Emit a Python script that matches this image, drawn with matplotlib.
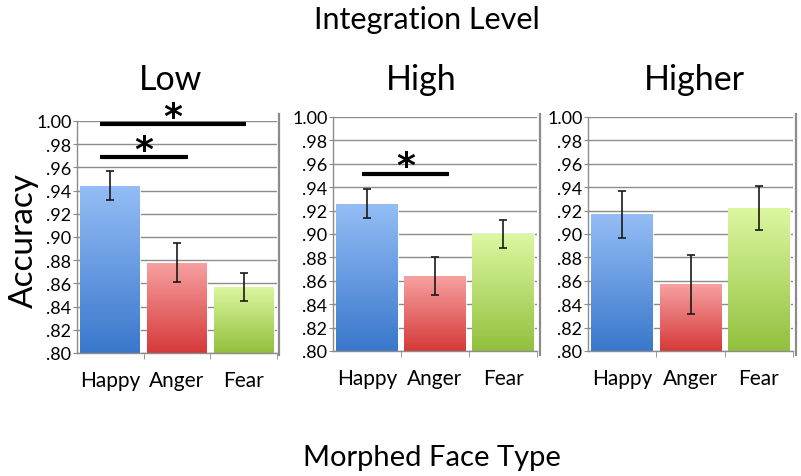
import numpy as np
import matplotlib
matplotlib.use("Agg")
import matplotlib.pyplot as plt
import matplotlib.transforms as mtransforms
from matplotlib.colors import LinearSegmentedColormap

plt.rcParams['font.family'] = ['Lato', 'DejaVu Sans']

categories = ['Happy', 'Anger', 'Fear']
levels = ['Low', 'High', 'Higher']

# accuracy means and error half-widths, per integration level
means = {
    'Low':    [0.944, 0.878, 0.857],
    'High':   [0.926, 0.864, 0.900],
    'Higher': [0.917, 0.857, 0.922],
}
errors = {
    'Low':    [0.0125, 0.0165, 0.012],
    'High':   [0.0125, 0.0165, 0.012],
    'Higher': [0.020, 0.025, 0.019],
}
# significance bars: (level, x start, x end, y)
sig_bars = [
    ('Low', -0.16, 2.03, 0.9970),
    ('Low', -0.16, 1.16, 0.9690),
    ('High', -0.08, 1.21, 0.9517),
]
yticks = [0.80, 0.82, 0.84, 0.86, 0.88, 0.90, 0.92, 0.94, 0.96, 0.98, 1.00]
ytick_labels = ['.80', '.82', '.84', '.86', '.88', '.90', '.92', '.94', '.96', '.98', '1.00']

grad_colors = [('#94bdf5', '#3a78cc'), ('#f7a0a0', '#d63a3a'), ('#dcf7a0', '#92c03e')]

W, H = 801, 477
fig = plt.figure(figsize=(W / 100, H / 100), dpi=100)

# axes boxes in pixels: left, right, top(1.00), bottom(.80)
boxes = [(77, 277, 122, 354), (333, 537, 118, 352), (588, 793, 118, 352)]
borders = [279, 540, 796]
title_x = [171, 421, 694]

for k, lvl in enumerate(levels):
    l, r, t, b = boxes[k]
    ax = fig.add_axes([l / W, 1 - b / H, (r - l) / W, (b - t) / H])
    x = np.arange(len(categories))
    bars = ax.bar(x, np.array(means[lvl]) - 0.8, width=0.9, bottom=0.8,
                  color='none', edgecolor='white', linewidth=0.6, zorder=2)
    for i, p in enumerate(bars.patches):
        cmap = LinearSegmentedColormap.from_list('g', [grad_colors[i][1], grad_colors[i][0]])
        grad = np.linspace(0, 1, 100).reshape(-1, 1)
        x0, y0 = p.get_x(), p.get_y()
        im = ax.imshow(grad, cmap=cmap, origin='lower', aspect='auto',
                       extent=[x0, x0 + p.get_width(), y0, y0 + p.get_height()], zorder=2)
        im.set_clip_path(p)
    ax.errorbar(x, means[lvl], yerr=errors[lvl], fmt='none', ecolor='#1a1a1a',
                elinewidth=1.2, capsize=2.8, capthick=1.2, zorder=4)

    ax.set_xlim(-0.5, 2.5)
    ax.set_ylim(0.8, 1.0)
    ax.set_yticks(yticks)
    ax.set_yticklabels(ytick_labels, fontsize=13)
    ax.yaxis.grid(True, color='#8c8c8c', linewidth=1.0, zorder=0)
    ax.set_axisbelow(True)
    ax.set_xticks(x)
    ax.set_xticklabels(categories, fontsize=15)
    ax.set_xticks([0.5, 1.5, 2.5], minor=True)
    ax.tick_params(axis='x', which='major', length=0, pad=12)
    ax.tick_params(axis='x', which='minor', direction='out', length=4, color='#8c8c8c')
    ax.tick_params(axis='y', direction='out', length=3, color='#8c8c8c', pad=1)
    for s in ['top', 'right']:
        ax.spines[s].set_visible(False)
    for s in ['left', 'bottom']:
        ax.spines[s].set_color('#8c8c8c')
        ax.spines[s].set_linewidth(1.0)

    fig.text(title_x[k] / W, 1 - 80 / H, lvl, ha='center', va='center', fontsize=24.5)

    for (sl, xa, xb, yy) in sig_bars:
        if sl != lvl:
            continue
        ax.plot([xa, xb], [yy, yy], color='black', linewidth=3, solid_capstyle='butt',
                clip_on=False, zorder=5)
        off = mtransforms.offset_copy(ax.transData, fig=fig, x=0, y=-2, units='points')
        ax.text((xa + xb) / 2, yy, '*', ha='center', va='baseline', fontsize=26,
                fontweight='bold', family='DejaVu Sans', transform=off,
                clip_on=False, zorder=5)

    # chart-area right border
    fig.add_artist(plt.Line2D([borders[k] / W, borders[k] / W], [1 - 356 / H, 1 - 115 / H],
                              color='#8c8c8c', linewidth=1.6))

fig.text(427 / W, 1 - 20 / H, 'Integration Level', ha='center', va='center', fontsize=22)
fig.text(24 / W, 1 - 240 / H, 'Accuracy', ha='center', va='center', rotation=90, fontsize=24)
fig.text(432 / W, 1 - 458 / H, 'Morphed Face Type', ha='center', va='center', fontsize=21)

fig.savefig('out.png', dpi=100)
